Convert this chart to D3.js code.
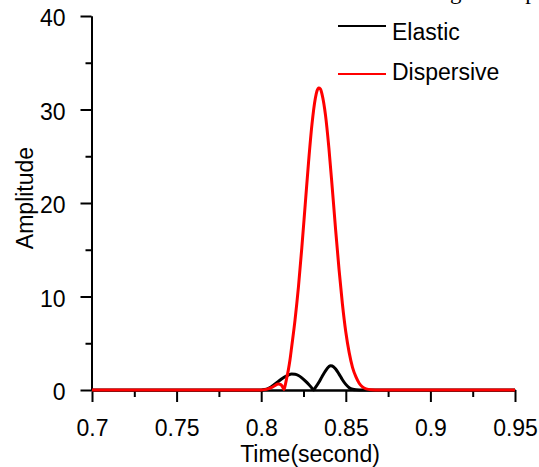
<!DOCTYPE html>
<html>
<head>
<meta charset="utf-8">
<script src="https://cdn.jsdelivr.net/npm/d3@7"></script>
<style>
  body { margin: 0; background: #fff; }
  svg { display: block; font-family: 'Liberation Sans', Arial, sans-serif; }
</style>
</head>
<body>
<div id="chart"></div>
<script>
// data (time in seconds, amplitude)
let elasticTime = [0.7, 0.8, 0.802, 0.804, 0.806, 0.808, 0.81, 0.812, 0.814, 0.816, 0.818, 0.82,
  0.822, 0.824, 0.826, 0.828, 0.83, 0.831, 0.832, 0.834, 0.836, 0.838, 0.84, 0.841, 0.842,
  0.844, 0.846, 0.848, 0.85, 0.852, 0.854, 0.856, 0.86, 0.95]
let elasticAmp = [0, 0, 0.05, 0.15, 0.35, 0.62, 0.9, 1.18, 1.42, 1.6, 1.7, 1.68,
  1.55, 1.3, 0.98, 0.62, 0.2, 0, 0.25, 0.8, 1.45, 2.05, 2.5, 2.6, 2.57,
  2.25, 1.7, 1.1, 0.6, 0.25, 0.08, 0.02, 0, 0]

let dispersiveTime = [0.7, 0.8, 0.802, 0.804, 0.806, 0.808, 0.81, 0.811, 0.812, 0.813, 0.8135,
  0.814, 0.815, 0.816, 0.817, 0.818, 0.82, 0.822, 0.824, 0.826, 0.828, 0.83, 0.832, 0.833,
  0.834, 0.835, 0.836, 0.838, 0.84, 0.842, 0.844, 0.846, 0.848, 0.85, 0.852, 0.854, 0.856,
  0.858, 0.86, 0.862, 0.865, 0.87, 0.95]
let dispersiveAmp = [0, 0, 0.04, 0.12, 0.25, 0.45, 0.64, 0.62, 0.5, 0.2, 0.05,
  0.35, 1.2, 2.1, 3.2, 4.6, 7.5, 11.0, 15.2, 19.8, 24.4, 28.4, 31.2, 32.0,
  32.3, 32.2, 31.6, 29.4, 25.9, 21.6, 17.1, 12.9, 9.2, 6.2, 4.0, 2.4, 1.4,
  0.7, 0.3, 0.12, 0.03, 0, 0]

let xMajorTicks = [0.7, 0.75, 0.8, 0.85, 0.9, 0.95]
let xMinorTicks = [0.725, 0.775, 0.825, 0.875, 0.925]
let yMajorTicks = [0, 10, 20, 30, 40]
let yMinorTicks = [5, 15, 25, 35]

let seriesNames = ['Elastic', 'Dispersive']
let seriesColors = ['#000000', '#ff0000']

let width = 539
let height = 467

let svg = d3.select('#chart')
  .append('svg')
  .attr('width', width)
  .attr('height', height)

let xPositionScale = d3.scaleLinear().domain([0.7, 0.95]).range([92, 515])
let yPositionScale = d3.scaleLinear().domain([0, 40]).range([390, 16])

// cut-off caption at the very top (only descenders show, as in the source)
svg.append('text')
  .attr('x', 432)
  .attr('y', -1)
  .attr('font-family', "'Liberation Serif', 'Times New Roman', serif")
  .attr('font-size', 23)
  .text('ing of Amp')

// axes
let xAxis = d3.axisBottom(xPositionScale)
  .tickValues(xMajorTicks)
  .tickFormat(d3.format('~g'))
  .tickSize(12)
  .tickSizeOuter(0)
  .tickPadding(18)

let xAxisMinor = d3.axisBottom(xPositionScale)
  .tickValues(xMinorTicks)
  .tickFormat('')
  .tickSize(7)
  .tickSizeOuter(0)

let yAxis = d3.axisLeft(yPositionScale)
  .tickValues(yMajorTicks)
  .tickSize(11)
  .tickSizeOuter(0)
  .tickPadding(15)

let yAxisMinor = d3.axisLeft(yPositionScale)
  .tickValues(yMinorTicks)
  .tickFormat('')
  .tickSize(6)
  .tickSizeOuter(0)

svg.append('g')
  .attr('class', 'axis x-axis')
  .attr('transform', 'translate(0,390)')
  .call(xAxis)

svg.append('g')
  .attr('class', 'axis x-axis')
  .attr('transform', 'translate(0,390)')
  .call(xAxisMinor)

svg.append('g')
  .attr('class', 'axis y-axis')
  .attr('transform', 'translate(91.5,0)')
  .call(yAxis)

svg.append('g')
  .attr('class', 'axis y-axis')
  .attr('transform', 'translate(91.5,0)')
  .call(yAxisMinor)

svg.selectAll('.axis path, .axis line')
  .attr('stroke', '#000')
  .attr('stroke-width', 2)

svg.selectAll('.axis text')
  .attr('font-size', 23)
  .attr('fill', '#000')
  .attr('font-family', "'Liberation Sans', Arial, sans-serif")

svg.selectAll('.y-axis text').attr('dy', '0.42em')

// axis titles
svg.append('text')
  .attr('x', 310)
  .attr('y', 462)
  .attr('text-anchor', 'middle')
  .attr('font-size', 23)
  .text('Time(second)')

svg.append('text')
  .attr('transform', 'translate(33,198) rotate(-90)')
  .attr('text-anchor', 'middle')
  .attr('font-size', 23)
  .text('Amplitude')

// lines
let line = d3.line()
  .x(d => xPositionScale(d[0]))
  .y(d => yPositionScale(d[1]))
  .curve(d3.curveMonotoneX)

let series = [
  d3.zip(elasticTime, elasticAmp),
  d3.zip(dispersiveTime, dispersiveAmp)
]

svg.selectAll('.series-line')
  .data(series)
  .enter()
  .append('path')
  .attr('class', 'series-line')
  .attr('d', line)
  .attr('fill', 'none')
  .attr('stroke', (d, i) => seriesColors[i])
  .attr('stroke-width', 3)
  .attr('stroke-linejoin', 'round')

// legend
let legendLineY = [26, 74]
let legendTextY = [40, 80]

let legend = svg.selectAll('.legend')
  .data(seriesNames)
  .enter()
  .append('g')
  .attr('class', 'legend')

legend.append('line')
  .attr('x1', 338)
  .attr('x2', 386)
  .attr('y1', (d, i) => legendLineY[i])
  .attr('y2', (d, i) => legendLineY[i])
  .attr('stroke', (d, i) => seriesColors[i])
  .attr('stroke-width', 2)

legend.append('text')
  .attr('x', 392)
  .attr('y', (d, i) => legendTextY[i])
  .attr('font-size', 23)
  .text(d => d)
</script>
</body>
</html>
